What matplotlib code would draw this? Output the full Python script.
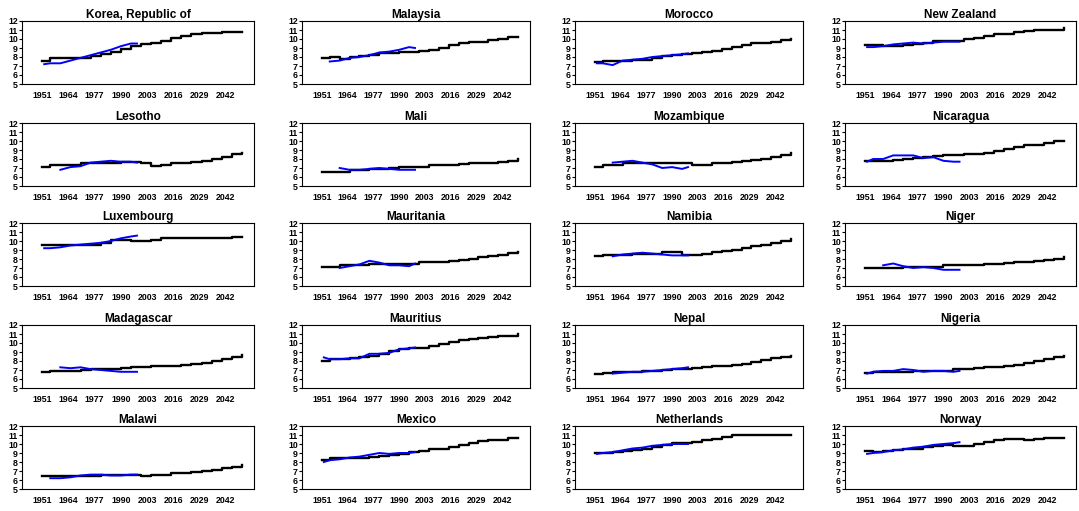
import numpy as np
import matplotlib
matplotlib.use("Agg")
import matplotlib.pyplot as plt

plt.rcParams['font.family'] = ['Liberation Sans', 'DejaVu Sans']
plt.rcParams['font.weight'] = 'bold'

# panel order, row by row
countries = ["Korea, Republic of", "Malaysia", "Morocco", "New Zealand",
             "Lesotho", "Mali", "Mozambique", "Nicaragua",
             "Luxembourg", "Mauritania", "Namibia", "Niger",
             "Madagascar", "Mauritius", "Nepal", "Nigeria",
             "Malawi", "Mexico", "Netherlands", "Norway"]

# black series (projection) years and values
proj_years = [1951, 1955, 1960, 1965, 1970, 1975, 1980, 1985, 1990, 1995, 2000,
              2005, 2010, 2015, 2020, 2025, 2030, 2035, 2040, 2045, 2050]
proj = {
    "Korea, Republic of": [7.5, 7.9, 7.9, 7.9, 7.9, 8.1, 8.3, 8.6, 8.9, 9.2, 9.4, 9.6, 9.8, 10.1, 10.3, 10.5, 10.7, 10.7, 10.8, 10.8, 10.8],
    "Malaysia": [7.9, 8.0, 7.8, 8.0, 8.1, 8.2, 8.4, 8.4, 8.6, 8.6, 8.7, 8.8, 9.0, 9.3, 9.5, 9.7, 9.7, 9.9, 10.0, 10.2, 10.2],
    "Morocco": [7.4, 7.5, 7.5, 7.6, 7.7, 7.7, 7.9, 8.1, 8.2, 8.3, 8.4, 8.6, 8.7, 8.9, 9.1, 9.3, 9.5, 9.5, 9.7, 9.9, 10.0],
    "New Zealand": [9.3, 9.3, 9.2, 9.2, 9.3, 9.4, 9.6, 9.8, 9.8, 9.8, 10.0, 10.1, 10.3, 10.5, 10.6, 10.8, 10.9, 11.0, 11.0, 11.0, 11.2],
    "Lesotho": [7.1, 7.3, 7.3, 7.3, 7.5, 7.6, 7.6, 7.6, 7.7, 7.7, 7.5, 7.2, 7.3, 7.5, 7.6, 7.7, 7.8, 8.0, 8.2, 8.5, 8.7],
    "Mali": [6.6, 6.6, 6.6, 6.8, 6.8, 6.9, 6.9, 7.0, 7.1, 7.1, 7.1, 7.3, 7.3, 7.3, 7.4, 7.5, 7.5, 7.6, 7.7, 7.8, 8.0],
    "Mozambique": [7.1, 7.3, 7.3, 7.5, 7.5, 7.5, 7.5, 7.5, 7.5, 7.5, 7.3, 7.3, 7.5, 7.6, 7.7, 7.8, 7.9, 8.0, 8.2, 8.4, 8.7],
    "Nicaragua": [7.8, 7.8, 7.8, 7.9, 8.0, 8.1, 8.2, 8.3, 8.4, 8.4, 8.5, 8.6, 8.7, 8.9, 9.1, 9.3, 9.5, 9.6, 9.8, 10.0, 10.0],
    "Luxembourg": [9.6, 9.6, 9.6, 9.6, 9.6, 9.6, 9.8, 10.1, 10.1, 10.0, 10.0, 10.1, 10.3, 10.3, 10.3, 10.3, 10.3, 10.3, 10.3, 10.4, 10.5],
    "Mauritania": [7.1, 7.1, 7.3, 7.3, 7.3, 7.5, 7.5, 7.5, 7.5, 7.5, 7.7, 7.7, 7.7, 7.8, 7.9, 8.0, 8.2, 8.3, 8.5, 8.7, 8.8],
    "Namibia": [8.3, 8.4, 8.4, 8.4, 8.6, 8.6, 8.6, 8.8, 8.8, 8.5, 8.4, 8.6, 8.8, 8.9, 9.0, 9.2, 9.4, 9.6, 9.8, 10.0, 10.2],
    "Niger": [7.0, 7.0, 7.0, 7.0, 7.1, 7.1, 7.1, 7.1, 7.3, 7.3, 7.3, 7.3, 7.5, 7.5, 7.6, 7.7, 7.7, 7.8, 7.9, 8.0, 8.2],
    "Madagascar": [6.8, 6.9, 6.9, 6.9, 7.0, 7.1, 7.1, 7.1, 7.2, 7.3, 7.3, 7.4, 7.5, 7.5, 7.6, 7.7, 7.8, 8.0, 8.2, 8.4, 8.7],
    "Mauritius": [8.0, 8.2, 8.2, 8.3, 8.4, 8.6, 8.8, 9.1, 9.3, 9.4, 9.5, 9.7, 9.9, 10.1, 10.3, 10.4, 10.6, 10.7, 10.8, 10.8, 11.0],
    "Nepal": [6.6, 6.7, 6.8, 6.8, 6.8, 6.9, 6.9, 7.0, 7.1, 7.1, 7.2, 7.3, 7.4, 7.5, 7.6, 7.7, 7.9, 8.1, 8.3, 8.5, 8.6],
    "Nigeria": [6.7, 6.8, 6.8, 6.8, 6.8, 6.9, 6.9, 6.9, 6.9, 7.1, 7.1, 7.2, 7.3, 7.3, 7.5, 7.6, 7.8, 8.0, 8.2, 8.4, 8.6],
    "Malawi": [6.4, 6.4, 6.4, 6.4, 6.4, 6.5, 6.6, 6.6, 6.6, 6.6, 6.4, 6.6, 6.6, 6.8, 6.8, 6.9, 7.0, 7.1, 7.3, 7.5, 7.7],
    "Mexico": [8.2, 8.5, 8.5, 8.5, 8.5, 8.6, 8.7, 8.8, 8.9, 9.1, 9.2, 9.4, 9.5, 9.7, 9.9, 10.1, 10.3, 10.5, 10.5, 10.7, 10.7],
    "Netherlands": [9.0, 9.0, 9.1, 9.2, 9.3, 9.5, 9.7, 9.9, 10.1, 10.1, 10.2, 10.4, 10.6, 10.8, 11.0, 11.0, 11.0, 11.0, 11.0, 11.0, 11.0],
    "Norway": [9.2, 9.1, 9.2, 9.3, 9.4, 9.5, 9.7, 9.8, 9.9, 9.8, 9.8, 10.0, 10.2, 10.5, 10.6, 10.6, 10.5, 10.6, 10.7, 10.7, 10.7],
}

# blue series (observed) years and values, None = no data
obs_years = [1952, 1955, 1960, 1965, 1970, 1975, 1980, 1985, 1990, 1995, 1998]
obs = {
    "Korea, Republic of": [7.2, 7.3, 7.3, 7.6, 7.9, 8.2, 8.5, 8.8, 9.2, 9.5, 9.5],
    "Malaysia": [None, 7.5, 7.6, 7.9, 8.0, 8.2, 8.5, 8.6, 8.8, 9.1, 9.0],
    "Morocco": [7.3, 7.3, 7.1, 7.6, 7.7, 7.8, 8.0, 8.1, 8.2, 8.3, 8.4],
    "New Zealand": [9.1, 9.1, 9.2, 9.4, 9.5, 9.6, 9.5, 9.6, 9.7, 9.7, 9.7],
    "Lesotho": [None, None, 6.8, 7.1, 7.2, 7.6, 7.7, 7.8, 7.7, 7.7, 7.6],
    "Mali": [None, None, 7.0, 6.8, 6.8, 6.9, 7.0, 6.9, 6.8, 6.8, 6.8],
    "Mozambique": [None, None, 7.6, 7.7, 7.8, 7.6, 7.4, 7.0, 7.1, 6.9, 7.1],
    "Nicaragua": [7.7, 8.0, 8.0, 8.4, 8.4, 8.4, 8.1, 8.2, 7.8, 7.7, 7.7],
    "Luxembourg": [9.2, 9.2, 9.3, 9.5, 9.6, 9.7, 9.8, 10.0, 10.3, 10.5, 10.6],
    "Mauritania": [None, None, 7.0, 7.2, 7.4, 7.8, 7.6, 7.3, 7.3, 7.2, 7.5],
    "Namibia": [None, None, 8.3, 8.5, 8.6, 8.7, 8.6, 8.5, 8.4, 8.4, 8.4],
    "Niger": [None, None, 7.3, 7.5, 7.2, 7.0, 7.1, 7.0, 6.8, 6.8, 6.8],
    "Madagascar": [None, None, 7.3, 7.2, 7.3, 7.1, 7.0, 6.9, 6.8, 6.8, 6.8],
    "Mauritius": [8.4, 8.2, 8.2, 8.3, 8.3, 8.8, 8.8, 8.9, 9.3, 9.4, 9.5],
    "Nepal": [None, None, 6.6, 6.7, 6.8, 6.8, 6.9, 7.0, 7.1, 7.2, 7.3],
    "Nigeria": [6.6, 6.8, 6.9, 6.9, 7.1, 7.0, 6.8, 6.9, 6.9, 6.8, 6.9],
    "Malawi": [None, 6.2, 6.2, 6.3, 6.5, 6.6, 6.6, 6.5, 6.5, 6.6, 6.6],
    "Mexico": [8.0, 8.2, 8.3, 8.5, 8.6, 8.8, 9.0, 8.9, 9.0, 9.0, 9.1],
    "Netherlands": [8.9, 9.0, 9.1, 9.3, 9.5, 9.6, 9.8, 9.9, 10.0, 10.0, 10.0],
    "Norway": [8.9, 9.0, 9.1, 9.3, 9.4, 9.6, 9.7, 9.9, 10.0, 10.1, 10.2],
}

xticks = [1951, 1964, 1977, 1990, 2003, 2016, 2029, 2042]
yticks = [5, 6, 7, 8, 9, 10, 11, 12]

W, H = 1079, 511
fig = plt.figure(figsize=(W / 100, H / 100), dpi=100)

col_left = [22, 302, 575, 845]
col_width = [232, 228, 228, 231]
row_top = [21, 123, 223, 325, 426]
row_h = 63

for i, name in enumerate(countries):
    r, c = divmod(i, 4)
    ax = fig.add_axes([col_left[c] / W, 1 - (row_top[r] + row_h) / H,
                       col_width[c] / W, row_h / H])
    ax.plot(proj_years, proj[name], color='black', lw=1.7, drawstyle='steps-post')
    ob = np.array([np.nan if v is None else v for v in obs[name]], dtype=float)
    ax.plot(obs_years, ob, color='#0000ff', lw=1.4)
    ax.set_xlim(1941, 2056)
    ax.set_ylim(5, 12)
    ax.set_xticks(xticks)
    ax.set_yticks(yticks)
    ax.tick_params(axis='x', length=0, pad=5, labelsize=6.3)
    ax.tick_params(axis='y', length=2, width=0.8, pad=1, labelsize=6.3)
    for lbl in ax.get_xticklabels() + ax.get_yticklabels():
        lbl.set_fontweight('bold')
    for sp in ax.spines.values():
        sp.set_linewidth(0.8)
    ax.set_title(name, fontsize=8.5, fontweight='bold', pad=2.5)

fig.savefig("out.png", dpi=100)
